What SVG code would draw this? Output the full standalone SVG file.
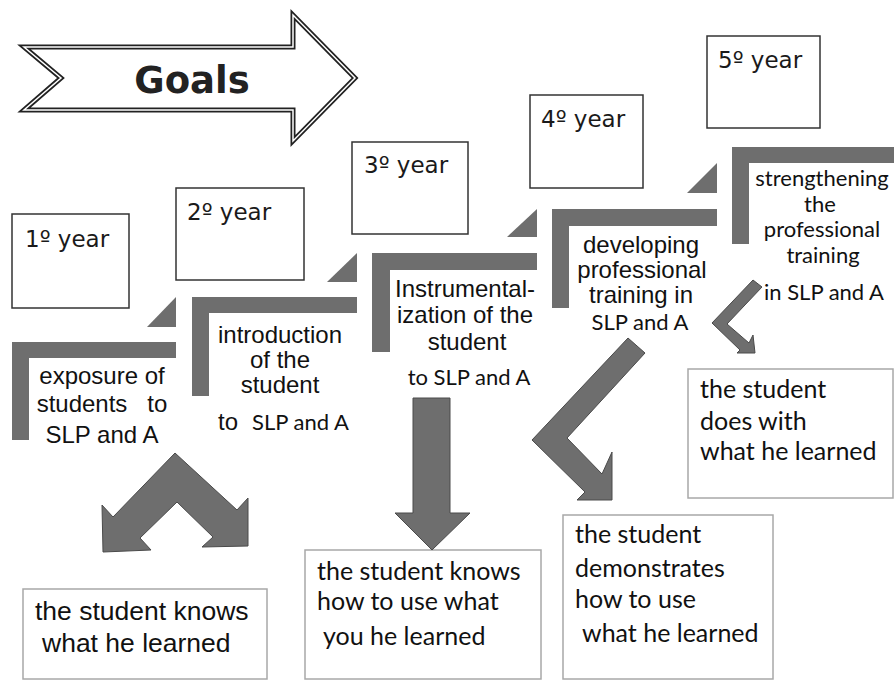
<svg xmlns="http://www.w3.org/2000/svg" width="894" height="681" viewBox="0 0 894 681">
<style>
.yb{fill:#fff;stroke:#333;stroke-width:1.5}
.bb{fill:#fff;stroke:#a8a8a8;stroke-width:1.5}
.st{fill:#6e6e6e}
.ar{fill:#6e6e6e;stroke:#4a4a4a;stroke-width:1}
.yt{font-family:"DejaVu Sans",Verdana,sans-serif;font-size:23px;fill:#1a1a1a}
.at{font-family:"Liberation Sans",Arial,sans-serif;font-size:24px;fill:#111;text-anchor:middle;white-space:pre}
.ct{font-family:Lato,"Open Sans",sans-serif;font-size:22px;fill:#111;text-anchor:middle}
.bt{font-family:Lato,"Open Sans",sans-serif;font-size:25px;fill:#111}
</style>
<rect width="894" height="681" fill="#fff"/>
<g id="goals">
<polygon points="24,47 293,47 293,15 355,78 293,141 293,110 24,110 61,78" fill="#fff" stroke="#222" stroke-width="5" stroke-linejoin="miter"/>
<polygon points="24,47 293,47 293,15 355,78 293,141 293,110 24,110 61,78" fill="none" stroke="#fff" stroke-width="1.5"/>
<text x="192" y="93" font-family="'DejaVu Sans',Verdana,sans-serif" font-weight="bold" font-size="37" fill="#222" text-anchor="middle">Goals</text>
</g>
<g id="year1"><rect class="yb" x="12" y="214" width="117" height="94"/><text class="yt" x="25" y="247">1º year</text></g>
<g id="year2"><rect class="yb" x="176" y="188" width="128" height="92"/><text class="yt" x="187" y="220">2º year</text></g>
<g id="year3"><rect class="yb" x="352" y="142" width="116" height="92"/><text class="yt" x="364" y="173">3º year</text></g>
<g id="year4"><rect class="yb" x="530" y="95" width="113" height="93"/><text class="yt" x="541" y="127">4º year</text></g>
<g id="year5"><rect class="yb" x="707" y="36" width="113" height="92"/><text class="yt" x="718" y="68">5º year</text></g>
<g id="step1">
<path class="st" d="M12,342 H176 V358 H29 V440 H12 Z"/>
<text class="at" x="102" y="384">exposure of</text>
<text class="at" x="102" y="412">students   to</text>
<text class="at" x="102" y="443">SLP and A</text>
</g>
<g id="step2">
<path class="st" d="M192,297 H357 V313 H209 V396 H192 Z"/>
<text class="at" x="280" y="343">introduction</text>
<text class="at" x="280" y="368">of the</text>
<text class="at" x="280" y="393">student</text>
<text x="218" y="430" font-family="'Liberation Sans',Arial,sans-serif" font-size="24" fill="#111">to<tspan x="252" font-family="Lato,'Open Sans',sans-serif" font-size="22">SLP and A</tspan></text>
</g>
<g id="step3">
<path class="st" d="M372,253 H537 V270 H390 V352 H372 Z"/>
<text class="at" x="465" y="297">Instrumental-</text>
<text class="at" x="465" y="323">ization of the</text>
<text class="at" x="467" y="350">student</text>
<text class="ct" x="469" y="385">to SLP and A</text>
</g>
<g id="step4">
<path class="st" d="M552,209 H717 V226 H569 V308 H552 Z"/>
<text class="at" x="641" y="253">developing</text>
<text class="at" x="642" y="278">professional</text>
<text class="at" x="641" y="303">training in</text>
<text class="ct" x="640" y="330">SLP and A</text>
</g>
<g id="step5">
<path class="st" d="M732,147 H894 V163 H749 V244 H732 Z"/>
<text class="ct" x="822" y="186">strengthening</text>
<text class="ct" x="820" y="212">the</text>
<text class="ct" x="822" y="237">professional</text>
<text class="ct" x="823" y="263">training</text>
<text class="ct" x="824" y="300">in SLP and A</text>
</g>
<g id="boxA"><rect class="bb" x="23" y="589" width="244" height="90"/>
<text x="35" y="620" font-family="'Liberation Sans',Arial,sans-serif" font-size="26.5" fill="#111">the student knows</text>
<text x="42" y="652" font-family="'Liberation Sans',Arial,sans-serif" font-size="26.5" fill="#111">what he learned</text></g>
<g id="boxB"><rect class="bb" x="305" y="550" width="236" height="129"/>
<text class="bt" x="317" y="580">the student knows</text>
<text class="bt" x="317" y="610">how to use what</text>
<text class="bt" x="323" y="645">you he learned</text></g>
<g id="boxC"><rect class="bb" x="563" y="515" width="210" height="164"/>
<text class="bt" x="575" y="543">the student</text>
<text class="bt" x="575" y="577">demonstrates</text>
<text class="bt" x="575" y="608">how to use</text>
<text class="bt" x="582" y="642">what he learned</text></g>
<g id="boxD"><rect class="bb" x="688" y="369" width="205" height="129"/>
<text class="bt" x="700" y="398">the student</text>
<text class="bt" x="700" y="430">does with</text>
<text class="bt" x="700" y="460">what he learned</text></g>
<g id="connectors">
<path class="st" d="M147,327 H176 V297 Z"/>
<path class="st" d="M327,282 H357 V253 Z"/>
<path class="st" d="M507,237 H537 V209 Z"/>
<path class="st" d="M687,193 H717 V163 Z"/>
<path class="ar" d="M175,453 L237,510 L248,498 L248,546 L202,547 L213,537 L177,502 L140,538 L151,550 L103,552 L102,505 L113,517 Z"/>
<path class="ar" d="M413,398 H450 V513 H470 L432,550 L395,513 H413 Z"/>
<path class="ar" d="M628,338 L645,353 L567,438 L602,474 L612,452 L612,500 L577,500 L585,492 L532,440 Z"/>
<path class="ar" d="M753,280 L762,287 L727,324 L749,343 L753,335 L755,353 L737,353 L740,350 L712,323 Z"/>
</g>
</svg>
